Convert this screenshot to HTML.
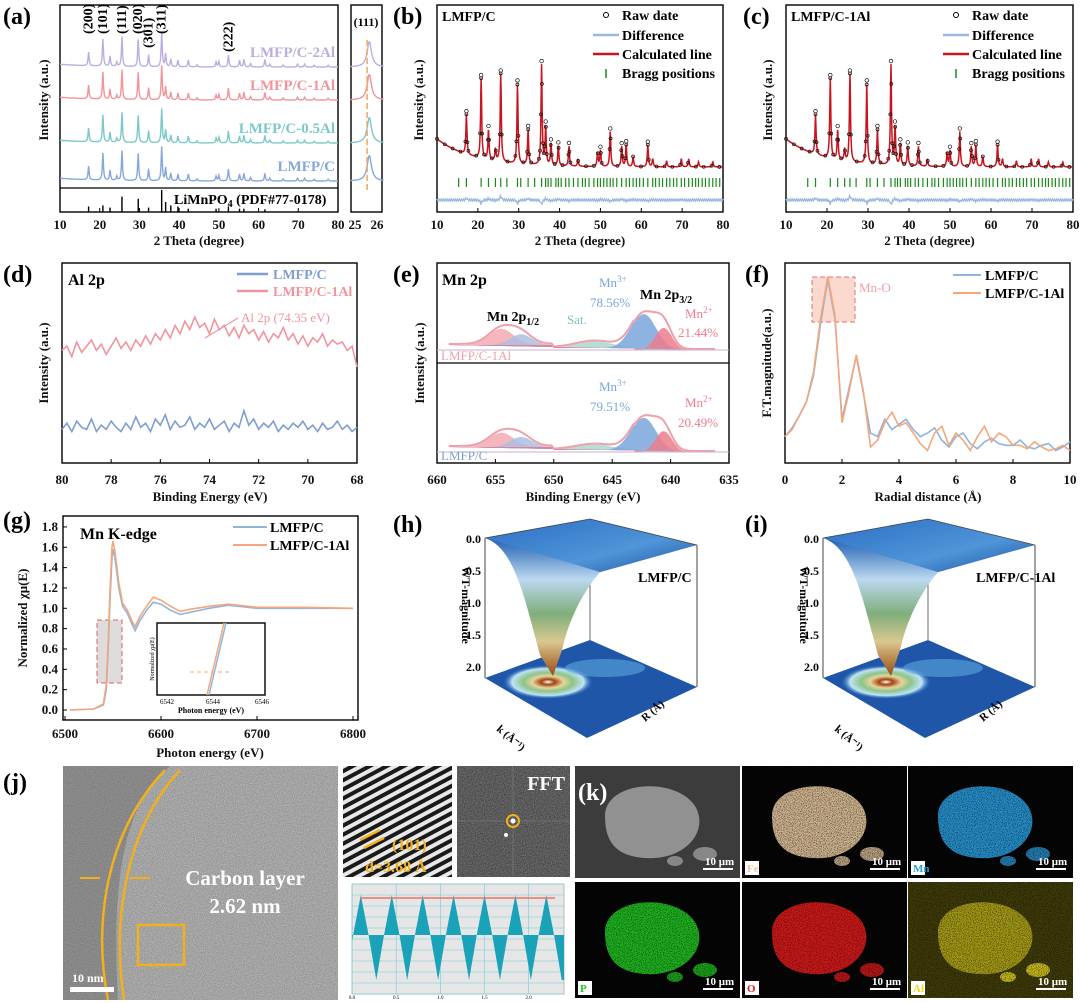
<!DOCTYPE html>
<html><head><meta charset="utf-8"><title>LMFP figure</title>
<style>
html,body{margin:0;padding:0;background:#fff;}
svg{display:block;font-family:"Liberation Serif",serif;}
.tk{font-size:13px;font-weight:bold;fill:#111;}
.ttl{font-size:13px;font-weight:bold;fill:#111;}
.pl{font-size:24px;font-weight:bold;fill:#000;}
</style></head>
<body>
<svg id="fig" width="1080" height="1003" viewBox="0 0 1080 1003" xmlns="http://www.w3.org/2000/svg">
<defs>
<filter id="tem" x="0" y="0" width="100%" height="100%"><feTurbulence type="fractalNoise" baseFrequency="0.9" numOctaves="2" seed="3"/><feColorMatrix type="matrix" values="0 0 0 0 0.5  0 0 0 0 0.5  0 0 0 0 0.5  0 0 0 1.4 -0.2"/></filter>
<filter id="grain" x="0" y="0" width="100%" height="100%"><feTurbulence type="fractalNoise" baseFrequency="1.2" numOctaves="1" seed="7"/><feColorMatrix type="matrix" values="0 0 0 0 0  0 0 0 0 0  0 0 0 0 0  0 0 0 -2.2 1.2"/></filter>
<pattern id="stripes" width="8" height="8" patternUnits="userSpaceOnUse" patternTransform="rotate(-28)"><rect width="8" height="8" fill="#e8e8e8"/><rect width="8" height="4" fill="#1a1a1a"/></pattern>
<linearGradient id="funnel" x1="0" y1="0" x2="0" y2="1"><stop offset="0" stop-color="#1f5fb0"/><stop offset="0.3" stop-color="#bcd9f0"/><stop offset="0.55" stop-color="#7fae7a"/><stop offset="0.75" stop-color="#d9c890"/><stop offset="1" stop-color="#9a4a10"/></linearGradient>
<linearGradient id="topsurf" x1="0" y1="0" x2="1" y2="1"><stop offset="0" stop-color="#2b6ec4"/><stop offset="0.6" stop-color="#4f95d8"/><stop offset="1" stop-color="#1b4fa0"/></linearGradient>
<radialGradient id="heat"><stop offset="0" stop-color="#fff"/><stop offset="0.15" stop-color="#a0410f"/><stop offset="0.35" stop-color="#e7d49a"/><stop offset="0.55" stop-color="#8cc48a"/><stop offset="0.8" stop-color="#bfe3f5"/><stop offset="1" stop-color="#2a6ec0" stop-opacity="0"/></radialGradient>
</defs>
<g id="root"></g>
</svg>
<script>
// ---------- DATA ----------
const xrdPos = [17.2,20.8,22.6,24.3,25.6,29.7,32.3,35.6,36.6,37.9,39.7,42.3,44.5,49.3,50.0,52.4,55.2,56.3,58.0,61.6,62.8,66.2,69.8,71.6,74.0,77.5];
const xrdInt = [0.4,0.8,0.3,0.12,0.88,0.8,0.35,1.0,0.38,0.22,0.2,0.2,0.06,0.14,0.16,0.35,0.2,0.22,0.1,0.22,0.08,0.06,0.08,0.08,0.05,0.05];
const pdfPos = [17.2,20.8,22.6,25.6,29.7,32.3,35.6,36.6,37.9,39.7,42.3,49.3,52.4,55.2,56.3,61.6];
const pdfInt = [0.25,0.3,0.2,0.7,0.6,0.2,1.0,0.45,0.3,0.25,0.15,0.15,0.25,0.15,0.15,0.12];
const xrdSeries = ["LMFP/C-2Al","LMFP/C-1Al","LMFP/C-0.5Al","LMFP/C"];
const xrdColors = ["#bcaee0","#f1959c","#7cc9c9","#86a9dd"];
const xrdTicks = [10,20,30,40,50,60,70,80];
const hkl = [["(200)",17.2],["(101)",20.8],["(111)",25.6],["(020)",29.7],["(301)",32.3],["(311)",35.6],["(222)",52.4]];
const braggPos = [15.3,17.2,20.8,22.6,24.3,25.6,27.1,29.7,30.5,32.3,33.9,35.6,36.6,37.2,37.9,39.1,39.7,40.4,41.5,42.3,43.4,44.5,45.6,46.3,47.2,48.4,49.3,50.0,50.8,51.6,52.4,53.1,54.0,55.2,56.3,57.1,58.0,58.8,59.6,60.5,61.6,62.8,63.5,64.4,65.2,66.2,67.0,67.9,68.7,69.8,70.6,71.6,72.5,73.3,74.0,74.9,75.7,76.6,77.5,78.3,79.2];
const alX0 = 80, alStep = -0.2;
const alPink = [0.58,0.6,0.55,0.62,0.57,0.6,0.63,0.58,0.61,0.56,0.6,0.64,0.59,0.62,0.58,0.63,0.6,0.65,0.61,0.66,0.63,0.68,0.64,0.7,0.66,0.72,0.68,0.74,0.69,0.71,0.66,0.73,0.68,0.7,0.65,0.69,0.64,0.7,0.66,0.68,0.63,0.67,0.62,0.66,0.64,0.69,0.63,0.66,0.61,0.65,0.6,0.64,0.62,0.66,0.6,0.63,0.61,0.62,0.58,0.6,0.5];
const alBlue = [0.2,0.23,0.19,0.24,0.21,0.2,0.25,0.19,0.22,0.2,0.24,0.21,0.19,0.23,0.2,0.26,0.21,0.23,0.19,0.25,0.22,0.27,0.2,0.24,0.21,0.22,0.26,0.2,0.23,0.21,0.25,0.2,0.22,0.24,0.19,0.23,0.21,0.29,0.22,0.25,0.2,0.23,0.21,0.24,0.19,0.22,0.2,0.23,0.21,0.24,0.2,0.22,0.19,0.23,0.2,0.21,0.24,0.2,0.22,0.19,0.21];
const mnCenters = [654.5,652.8,646.5,642.3,640.6];
const mnTopAmp = [0.45,0.3,0.18,1.0,0.62];
const mnBotAmp = [0.4,0.28,0.15,0.95,0.58];
const ftR = [0,0.25,0.5,0.75,1,1.25,1.5,1.75,2,2.25,2.5,2.75,3,3.25,3.5,3.75,4,4.25,4.5,4.75,5,5.25,5.5,5.75,6,6.25,6.5,6.75,7,7.25,7.5,7.75,8,8.25,8.5,8.75,9,9.25,9.5,9.75,10];
const ftC = [0.1,0.15,0.22,0.3,0.45,0.75,1.0,0.78,0.2,0.38,0.56,0.35,0.12,0.1,0.2,0.14,0.17,0.2,0.14,0.1,0.12,0.15,0.08,0.04,0.1,0.12,0.06,0.03,0.07,0.09,0.06,0.05,0.05,0.08,0.04,0.03,0.05,0.06,0.02,0.04,0.07];
const ftAl = [0.1,0.14,0.22,0.3,0.47,0.78,1.02,0.8,0.18,0.36,0.57,0.36,0.04,0.08,0.18,0.24,0.16,0.18,0.12,0.06,0.02,0.12,0.16,0.05,0.12,0.08,0.02,0.1,0.16,0.07,0.12,0.1,0.05,0.05,0.03,0.07,0.04,0.02,0.03,0.05,0.02];
const xanE = [6505,6530,6540,6543,6545,6547,6549,6550,6552,6556,6560,6565,6570,6573,6578,6585,6592,6600,6610,6620,6630,6650,6670,6700,6750,6800];
const xanC = [0,0.01,0.05,0.2,0.6,1.1,1.5,1.58,1.5,1.2,1.02,0.95,0.84,0.78,0.88,0.98,1.06,1.04,0.98,0.94,0.96,1.0,1.03,1.0,1.0,1.0];
const xanAl = [0,0.01,0.06,0.25,0.68,1.2,1.6,1.66,1.56,1.25,1.05,0.98,0.87,0.82,0.92,1.02,1.11,1.08,1.02,0.97,0.99,1.02,1.04,1.01,1.01,1.0];
const profPeaks = [0.1,0.45,0.8,1.15,1.5,1.85,2.2];

// ---------- HELPERS ----------
const NS="http://www.w3.org/2000/svg";
const root=document.getElementById('root');
function mk(tag,attrs,parent){const e=document.createElementNS(NS,tag);for(const k in attrs)e.setAttribute(k,attrs[k]);(parent||root).appendChild(e);return e;}
function txt(x,y,s,attrs,parent){const t=mk('text',Object.assign({x:x,y:y},attrs||{}),parent);t.textContent=s;return t;}
function sub(t,s,dy,fs){const sp=mk('tspan',{dy:dy,'font-size':fs},t);sp.textContent=s;return sp;}
function lin(d0,d1,r0,r1){return v=>r0+(v-d0)*(r1-r0)/(d1-d0);}
function pts(xs,ys,sx,sy){return xs.map((v,i)=>sx(v).toFixed(1)+','+sy(ys[i]).toFixed(1)).join(' ');}
function lor(x,c,w){return 1/(1+Math.pow((x-c)/w,2));}
function gau(x,c,w){return Math.exp(-Math.pow((x-c)/w,2));}
function xrdPeaks(x){let s=0;for(let i=0;i<xrdPos.length;i++)s+=xrdInt[i]*lor(x,xrdPos[i],0.16);return s;}
function xrdVal(x,bg){return xrdPeaks(x)+bg*Math.exp(-(x-10)/9);}
function frame(x,y,w,h,name){const r=mk('rect',{x:x,y:y,width:w,height:h,fill:'none',stroke:'#000','stroke-width':1.4});return r;}
function label(x,y,s,name){const t=txt(x,y,s,{class:'pl'});return t;}
function xTicks(ticks,sx,y0,yl){ticks.forEach(v=>{mk('line',{x1:sx(v),x2:sx(v),y1:y0,y2:y0-4,stroke:'#000'});const t=txt(sx(v),yl,String(v),{class:'tk','text-anchor':'middle'});});}
function ytitle(x,y,s,name,size){const t=txt(x,y,s,{class:'ttl','text-anchor':'middle',transform:'rotate(-90 '+x+' '+y+')','font-size':size||13});}
function xtitle(x,y,s,name){const t=txt(x,y,s,{class:'ttl','text-anchor':'middle'});}

// ---------- (a) ----------
label(3,24,'(a)','panel-a-label');
frame(60,5,278,207,'panel-a-frame');
mk('line',{x1:60,x2:338,y1:188,y2:188,stroke:'#000','stroke-width':1.2});
const ax=lin(10,80,60,338);
const aBase=[67,100,143,181];
xrdSeries.forEach((name,si)=>{const xs=[],ys=[];for(let x=10;x<=80;x+=0.1){xs.push(x);ys.push(xrdVal(x,0.08));}
 const p=mk('polyline',{points:pts(xs,ys,ax,v=>aBase[si]-v*34),fill:'none',stroke:xrdColors[si],'stroke-width':1.4});
 
 
 const t=txt(335,aBase[si]-10,name,{'text-anchor':'end','font-size':15,'font-weight':'bold',fill:xrdColors[si]});
 
 });
hkl.forEach(h=>{const x=ax(h[1])+4;const y=h[0]==='(301)'?48:(h[0]==='(222)'?52:34);const t=txt(x,y,h[0],{'font-size':14,'font-weight':'bold',transform:'rotate(-90 '+x+' '+y+')'});});
pdfPos.forEach((p,i)=>{const l=mk('line',{x1:ax(p),x2:ax(p),y1:212,y2:212-pdfInt[i]*22,stroke:'#000','stroke-width':1.4});});
{const t=txt(174,204,'LiMnPO',{'font-size':14,'font-weight':'bold'});sub(t,'4',3,10);sub(t,' (PDF#77-0178)',-3,14);}
xTicks(xrdTicks,ax,212,229);
xtitle(199,245,'2 Theta (degree)','x-axis-title-a');
ytitle(48,100,'Intensity (a.u.)','y-axis-title-a');
frame(351,5,31,207,'panel-a-zoom-frame');
txt(366,26,'(111)',{'font-size':12,'font-weight':'bold','text-anchor':'middle'});
const zx=lin(25,26,355,377);
xrdSeries.forEach((n,si)=>{const xs=[],ys=[];for(let x=24.8;x<=26.3;x+=0.02){xs.push(x);ys.push(0.85*lor(x,25.65,0.12));}
 const p=mk('polyline',{points:pts(xs,ys,zx,v=>aBase[si]-v*30),fill:'none',stroke:xrdColors[si],'stroke-width':1.4});
 
 });
mk('line',{x1:zx(25.55),x2:zx(25.55),y1:40,y2:190,stroke:'#f5a55a','stroke-width':1.5,'stroke-dasharray':'6,3'});
txt(355,229,'25',{class:'tk','text-anchor':'middle'});txt(377,229,'26',{class:'tk','text-anchor':'middle'});

// ---------- (b),(c) Rietveld ----------
function rietveld(x0,x1,title,lab,lx,name){
 label(lx,24,lab,name+'-label');
 frame(x0,5,x1-x0,207,name+'-frame');
 const sx=lin(10,80,x0,x1),sy=v=>167-v*100;
 const xs=[],ys=[];for(let x=10;x<=80;x+=0.08){xs.push(x);ys.push(xrdVal(x,0.28));}
 const calc=mk('polyline',{points:pts(xs,ys,sx,sy),fill:'none',stroke:'#c8141e','stroke-width':1.5});
 
 
 const g=mk('g',{fill:'none',stroke:'#111','stroke-width':0.7});
 
 
 for(let i=0;i<xs.length;i+=3){if(xrdPeaks(xs[i])>0.1||i%24===0)mk('circle',{cx:sx(xs[i]).toFixed(1),cy:sy(ys[i]).toFixed(1),r:1.5},g);}
 xrdPos.forEach((p,i)=>{if(xrdInt[i]>0.15)mk('circle',{cx:sx(p),cy:sy(xrdVal(p,0.28))-3,r:1.8},g);});
 braggPos.forEach(p=>{const l=mk('line',{x1:sx(p),x2:sx(p),y1:178,y2:187,stroke:'#1a8a1a','stroke-width':1.2});});
 const d=[];for(let x=10;x<=80;x+=0.25){let v=0;for(let i=0;i<xrdPos.length;i++)v+=xrdInt[i]*lor(x,xrdPos[i],0.2)*((i%2)?1:-1);d.push(sx(x).toFixed(1)+','+(200+v*5+((Math.round(x*4)%2)?1:-1)).toFixed(1));}
 const dl=mk('polyline',{points:d.join(' '),fill:'none',stroke:'#9ab8e0','stroke-width':1.3});
 
 
 txt(x0+5,21,title,{'font-size':14,'font-weight':'bold'});
 const lg=x1-117;
 const lgg=mk('g',{});
 
 
 mk('circle',{cx:lg,cy:15,r:2.5,fill:'none',stroke:'#000'},lgg);txt(lg+16,20,'Raw date',{'font-size':14,'font-weight':'bold'},lgg);
 mk('line',{x1:lg-13,x2:lg+13,y1:35,y2:35,stroke:'#9ab8e0','stroke-width':2.5},lgg);txt(lg+16,40,'Difference',{'font-size':14,'font-weight':'bold'},lgg);
 mk('line',{x1:lg-13,x2:lg+13,y1:54,y2:54,stroke:'#c8141e','stroke-width':2.5},lgg);txt(lg+16,59,'Calculated line',{'font-size':14,'font-weight':'bold'},lgg);
 mk('line',{x1:lg,x2:lg,y1:69,y2:78,stroke:'#1a8a1a','stroke-width':1.5},lgg);txt(lg+16,78,'Bragg positions',{'font-size':14,'font-weight':'bold'},lgg);
 xTicks(xrdTicks,sx,212,229);
 xtitle((x0+x1)/2,245,'2 Theta (degree)','x-axis-title');
 ytitle(x0-14,100,'Intensity (a.u.)','y-axis-title');
}
rietveld(437,723,'LMFP/C','(b)',393,'panel-b');
rietveld(786,1073,'LMFP/C-1Al','(c)',743,'panel-c');

// ---------- (d) Al 2p ----------
label(3,282,'(d)','panel-d-label');
frame(62,263,295,200,'panel-d-frame');
{const sx=lin(80,68,62,357),sy=v=>471-v*208;const xs=alPink.map((_,i)=>alX0+i*alStep);
 const p1=mk('polyline',{points:pts(xs,alPink,sx,sy),fill:'none',stroke:'#f0959e','stroke-width':1.6});
 
 
 const p2=mk('polyline',{points:pts(xs,alBlue,sx,sy),fill:'none',stroke:'#7f9fd2','stroke-width':1.6});
 
 
 xTicks([80,78,76,74,72,70,68],sx,463,484);
 txt(68,285,'Al 2p',{'font-size':16,'font-weight':'bold'});
 mk('line',{x1:237,x2:268,y1:274,y2:274,stroke:'#7f9fd2','stroke-width':2.5});txt(273,279,'LMFP/C',{'font-size':14,'font-weight':'bold',fill:'#7f9fd2'});
 mk('line',{x1:237,x2:268,y1:291,y2:291,stroke:'#f0959e','stroke-width':2.5});txt(273,296,'LMFP/C-1Al',{'font-size':14,'font-weight':'bold',fill:'#f0959e'});
 mk('line',{x1:205,x2:238,y1:338,y2:318,stroke:'#f0959e','stroke-width':1.2});
 txt(241,322,'Al 2p (74.35 eV)',{'font-size':13,fill:'#f0959e'});
 xtitle(210,501,'Binding Energy (eV)','x-axis-title-d');ytitle(48,363,'Intensity (a.u.)','y-axis-title-d');}

// ---------- (e) Mn 2p ----------
label(393,282,'(e)','panel-e-label');
frame(437,263,292,200,'panel-e-frame');
mk('line',{x1:437,x2:729,y1:363,y2:363,stroke:'#000','stroke-width':1.2});
{const sx=lin(660,635,437,729);
 const cols=['#f4a9b3','#a9c0e3','#a8d8cf','#7aa6dc','#ee7d8c'];const wd=[1.5,1.3,2.2,1.5,1.0];
 const drawMn=function(amps,base,name){
  const bgf=x=>(x>650?5:(x>643?2:0));
  mnCenters.forEach((c,i)=>{const ps=[];for(let x=659;x>=636;x-=0.2){ps.push(sx(x).toFixed(1)+','+(base-amps[i]*36*gau(x,c,wd[i])-bgf(x)).toFixed(1));}
   const a=mk('polygon',{points:sx(659)+','+(base-5)+' '+ps.join(' ')+' '+sx(636)+','+base,fill:cols[i],opacity:0.85});
   
   });
  const env=[];for(let x=659;x>=636;x-=0.2){let v=0;mnCenters.forEach((c,i)=>{v+=amps[i]*gau(x,c,wd[i]);});env.push(sx(x).toFixed(1)+','+(base-v*36-bgf(x)-1).toFixed(1));}
  const e=mk('polyline',{points:env.join(' '),fill:'none',stroke:'#f0a0a8','stroke-width':2});
  
  
  mk('line',{x1:437,x2:729,y1:base,y2:base,stroke:'#c8b0d0','stroke-width':1});};
 drawMn(mnTopAmp,350,'mn2p-top');drawMn(mnBotAmp,452,'mn2p-bottom');
 xTicks([660,655,650,645,640,635],sx,463,484);
 txt(442,285,'Mn 2p',{'font-size':16,'font-weight':'bold'});
 {const t=txt(487,321,'Mn 2p',{'font-size':14,'font-weight':'bold'});sub(t,'1/2',4,10);}
 {const t=txt(640,299,'Mn 2p',{'font-size':14,'font-weight':'bold'});sub(t,'3/2',4,10);}
 {const t=txt(599,287,'Mn',{'font-size':13,fill:'#7aa6dc'});sub(t,'3+',-5,9);}
 txt(590,307,'78.56%',{'font-size':13,fill:'#7aa6dc'});
 txt(567,324,'Sat.',{'font-size':13,fill:'#7fc0c0'});
 {const t=txt(685,318,'Mn',{'font-size':13,fill:'#ee7d8c'});sub(t,'2+',-5,9);}
 txt(678,337,'21.44%',{'font-size':13,fill:'#ee7d8c'});
 txt(441,360,'LMFP/C-1Al',{'font-size':13,fill:'#f0a0a8'});
 {const t=txt(599,391,'Mn',{'font-size':13,fill:'#7aa6dc'});sub(t,'3+',-5,9);}
 txt(590,411,'79.51%',{'font-size':13,fill:'#7aa6dc'});
 {const t=txt(685,407,'Mn',{'font-size':13,fill:'#ee7d8c'});sub(t,'2+',-5,9);}
 txt(678,427,'20.49%',{'font-size':13,fill:'#ee7d8c'});
 txt(441,460,'LMFP/C',{'font-size':13,fill:'#7f9fd2'});
 xtitle(583,501,'Binding Energy (eV)','x-axis-title-e');ytitle(424,363,'Intensity (a.u.)','y-axis-title-e');}

// ---------- (f) FT ----------
label(745,282,'(f)','panel-f-label');
frame(785,263,285,200,'panel-f-frame');
{const sx=lin(0,10,785,1070),sy=v=>454-v*174;
 mk('rect',{x:812,y:277,width:43,height:45,fill:'#fbd9cf',stroke:'#e07070','stroke-dasharray':'5,3'});
 txt(859,292,'Mn-O',{'font-size':13,fill:'#f0a0a8'});
 const a=mk('polyline',{points:pts(ftR,ftC,sx,sy),fill:'none',stroke:'#8fb4dd','stroke-width':1.6});
 
 
 const b=mk('polyline',{points:pts(ftR,ftAl,sx,sy),fill:'none',stroke:'#f4a77a','stroke-width':1.6});
 
 
 xTicks([0,2,4,6,8,10],sx,463,484);
 mk('line',{x1:953,x2:981,y1:275,y2:275,stroke:'#8fb4dd','stroke-width':2});txt(985,280,'LMFP/C',{'font-size':14,'font-weight':'bold'});
 mk('line',{x1:953,x2:981,y1:293,y2:293,stroke:'#f4a77a','stroke-width':2});txt(985,298,'LMFP/C-1Al',{'font-size':14,'font-weight':'bold'});
 xtitle(928,501,'Radial distance (Å)','x-axis-title-f');ytitle(771,363,'F.T.magnitude(a.u.)','y-axis-title-f');}

// ---------- (g) XANES ----------
label(3,528,'(g)','panel-g-label');
frame(63,516,295,204,'panel-g-frame');
{const sx=lin(6500,6800,65,353),sy=v=>710-v*101.7;
 [0,0.2,0.4,0.6,0.8,1.0,1.2,1.4,1.6,1.8].forEach(v=>{mk('line',{x1:63,x2:67,y1:sy(v),y2:sy(v),stroke:'#000'});txt(58,sy(v)+4,v.toFixed(1),{class:'tk','text-anchor':'end'});});
 mk('rect',{x:97,y:620,width:25,height:63,fill:'#ddd',stroke:'#e06060','stroke-dasharray':'5,3'});
 const a=mk('polyline',{points:pts(xanE,xanC,sx,sy),fill:'none',stroke:'#8fb4dd','stroke-width':1.6});
 
 
 const b=mk('polyline',{points:pts(xanE,xanAl,sx,sy),fill:'none',stroke:'#f4a77a','stroke-width':1.6});
 
 
 xTicks([6500,6600,6700,6800],sx,720,738);
 txt(80,539,'Mn K-edge',{'font-size':16,'font-weight':'bold'});
 mk('line',{x1:233,x2:267,y1:527,y2:527,stroke:'#8fb4dd','stroke-width':2});txt(270,532,'LMFP/C',{'font-size':14,'font-weight':'bold'});
 mk('line',{x1:233,x2:267,y1:545,y2:545,stroke:'#f4a77a','stroke-width':2});txt(270,550,'LMFP/C-1Al',{'font-size':14,'font-weight':'bold'});
 frame(157,623,108,72,'inset-frame');
 mk('line',{x1:209,x2:226,y1:695,y2:623,stroke:'#8fb4dd','stroke-width':1.5});mk('line',{x1:207,x2:224,y1:695,y2:623,stroke:'#f4a77a','stroke-width':1.5});
 mk('line',{x1:190,x2:230,y1:672,y2:672,stroke:'#f4a77a','stroke-dasharray':'4,3'});
 txt(160,704,'6542',{'font-size':7});txt(206,704,'6544',{'font-size':7});txt(255,704,'6546',{'font-size':7});
 txt(211,713,'Photon energy (eV)',{'font-size':8,'text-anchor':'middle','font-weight':'bold'});
 txt(154,659,'Normalized χμ(E)',{'font-size':6,'text-anchor':'middle',transform:'rotate(-90 154 659)'});
 xtitle(210,757,'Photon energy (eV)','x-axis-title-g');ytitle(27,618,'Normalized χμ(E)','y-axis-title-g');}

// ---------- (h),(i) 3D WT ----------
function wt(dx,lab,title,name,lx){
 label(lx,532,lab,name+'-label');
 const g=mk('g',{transform:'translate('+dx+',0)'});
 
 
 mk('polygon',{points:'485,678 590,640 697,687 587,738',fill:'#1f56a8'},g);
 mk('ellipse',{cx:548,cy:682,rx:45,ry:17,fill:'url(#heat)'},g);
 mk('ellipse',{cx:605,cy:668,rx:40,ry:9,fill:'#5ea8e0',opacity:0.6},g);
 mk('line',{x1:590,x2:590,y1:519,y2:640,stroke:'#444','stroke-width':0.8},g);
 mk('polygon',{points:'485,538 590,519 697,545 590,575',fill:'url(#topsurf)'},g);
 mk('path',{d:'M485,538 C515,548 525,600 540,655 L553,676 L562,650 C570,615 585,590 600,572 L560,560 Z',fill:'url(#funnel)'},g);
 mk('line',{x1:485,x2:485,y1:538,y2:678,stroke:'#444'},g);mk('line',{x1:697,x2:697,y1:545,y2:687,stroke:'#444'},g);
 mk('polyline',{points:'485,538 590,519 697,545',fill:'none',stroke:'#444','stroke-width':0.8},g);
 [0,0.5,1.0,1.5,2.0].forEach((v,i)=>txt(481,543+i*32,v.toFixed(1),{'font-size':12,'font-weight':'bold','text-anchor':'end'},g));
 txt(462,605,'WT-magnitude',{'font-size':12,'font-weight':'bold','text-anchor':'middle',transform:'rotate(90 462 605)'},g);
 txt(496,730,'k (Å⁻¹)',{'font-size':11,'font-weight':'bold',transform:'rotate(40 496 730)'},g);
 txt(645,722,'R (Å)',{'font-size':11,'font-weight':'bold',transform:'rotate(-40 645 722)'},g);
 txt(638,582,title,{'font-size':14,'font-weight':'bold'},g);
}
wt(0,'(h)','LMFP/C','panel-h',393);
wt(338,'(i)','LMFP/C-1Al','panel-i',745);

// ---------- (j) TEM ----------
label(3,790,'(j)','panel-j-label');
{const g=mk('g',{});
 
 
 mk('rect',{x:63,y:766,width:275,height:234,fill:'#8a8a8a'},g);
 mk('rect',{x:63,y:766,width:275,height:234,filter:'url(#tem)'},g);
 mk('path',{d:'M63,766 L170,766 C130,800 110,860 118,1000 L63,1000 Z',fill:'#555',opacity:0.35},g);
 mk('path',{d:'M108,1000 C92,920 108,830 165,770',fill:'none',stroke:'#f2b01c','stroke-width':2.5},g);
 mk('path',{d:'M124,1000 C112,920 125,830 180,770',fill:'none',stroke:'#f2b01c','stroke-width':2.5},g);
 mk('line',{x1:80,x2:100,y1:878,y2:878,stroke:'#f2b01c','stroke-width':2},g);
 mk('line',{x1:150,x2:130,y1:878,y2:878,stroke:'#f2b01c','stroke-width':2},g);
 mk('rect',{x:138,y:925,width:46,height:40,fill:'none',stroke:'#f2b01c','stroke-width':2.5},g);
 txt(245,885,'Carbon layer',{'font-size':21,'font-weight':'bold',fill:'#fff','text-anchor':'middle'},g);
 txt(245,913,'2.62 nm',{'font-size':21,'font-weight':'bold',fill:'#fff','text-anchor':'middle'},g);
 mk('rect',{x:70,y:987,width:44,height:5,fill:'#fff'},g);txt(72,982,'10 nm',{'font-size':12,'font-weight':'bold',fill:'#fff'},g);}
{const g=mk('g',{});
 
 
 mk('rect',{x:343,y:766,width:109,height:111,fill:'url(#stripes)'},g);
 mk('line',{x1:360,x2:380,y1:840,y2:830,stroke:'#f2b01c','stroke-width':2.5},g);mk('line',{x1:364,x2:384,y1:848,y2:838,stroke:'#f2b01c','stroke-width':2.5},g);
 txt(392,850,'(101)',{'font-size':16,'font-weight':'bold',fill:'#f2b01c'},g);txt(365,872,'d=3.68 Å',{'font-size':16,'font-weight':'bold',fill:'#f2b01c'},g);}
{const g=mk('g',{});
 
 
 mk('rect',{x:457,y:766,width:113,height:111,fill:'#3a3a3a'},g);
 mk('rect',{x:457,y:766,width:113,height:111,fill:'#999',filter:'url(#tem)',opacity:0.5},g);
 mk('line',{x1:513,x2:513,y1:766,y2:877,stroke:'#777','stroke-width':0.8},g);mk('line',{x1:457,x2:570,y1:821,y2:821,stroke:'#777','stroke-width':0.8},g);
 mk('circle',{cx:513,cy:821,r:6,fill:'none',stroke:'#f2b01c','stroke-width':2},g);mk('circle',{cx:513,cy:821,r:2.5,fill:'#fff'},g);mk('circle',{cx:506,cy:835,r:2,fill:'#fff'},g);
 txt(565,790,'FFT',{'font-size':20,'font-weight':'bold',fill:'#fff','text-anchor':'end'},g);}
{const g=mk('g',{});
 
 
 mk('rect',{x:343,y:882,width:227,height:118,fill:'#fff'},g);
 mk('rect',{x:352,y:884,width:212,height:110,fill:'#e6e6e6',stroke:'#bbb'},g);
 const sx=lin(0,2.4,352,564);
 for(let i=0;i<=10;i++)mk('line',{x1:352,x2:564,y1:884+i*11,y2:884+i*11,stroke:'#6ccfe0','stroke-width':0.6},g);
 [0,0.5,1,1.5,2].forEach(v=>mk('line',{x1:sx(v),x2:sx(v),y1:884,y2:994,stroke:'#6ccfe0','stroke-width':0.6},g));
 const half=0.175;
 const ps=[];for(let x=0;x<=2.4;x+=0.005){let dmin=9;profPeaks.forEach(p=>{dmin=Math.min(dmin,Math.abs(x-p));});const v=1-2*Math.min(dmin,half)/half;ps.push(sx(x).toFixed(1)+','+(935-v*(v>0?40:45)).toFixed(1));}
 mk('polygon',{points:sx(0)+',935 '+ps.join(' ')+' '+sx(2.4)+',935',fill:'#1aa3b8'},g);
 mk('line',{x1:sx(0.1),x2:sx(2.3),y1:898,y2:898,stroke:'#f07060','stroke-width':1.5},g);
 ['0.0','0.5','1.0','1.5','2.0'].forEach((s,i)=>txt(sx(i*0.5),999,s,{'font-size':5,'text-anchor':'middle'},g));}

// ---------- (k) EDS ----------
const edsCols=[['SEM','#9a9a9a',575,766],['Fe','#e8c9a0',742,766],['Mn','#2a9ee0',908,766],['P','#22c822',575,882],['O','#e41c1c',742,882],['Al','#e8d820',908,882]];
edsCols.forEach(c=>{const g=mk('g',{});
 
 
 const x=c[2],y=c[3],w=165,h=c[3]>800?116:112;
 mk('rect',{x:x,y:y,width:w,height:h,fill:c[0]==='SEM'?'#3c3c3c':'#050505'},g);
 if(c[0]==='Al'){mk('rect',{x:x,y:y,width:w,height:h,fill:'#8a8010',opacity:0.45},g);}
 mk('path',{d:'M'+(x+30)+','+(y+50)+' C'+(x+30)+','+(y+15)+' '+(x+100)+','+(y+10)+' '+(x+120)+','+(y+40)+' C'+(x+135)+','+(y+65)+' '+(x+110)+','+(y+95)+' '+(x+70)+','+(y+92)+' C'+(x+40)+','+(y+90)+' '+(x+30)+','+(y+75)+' '+(x+30)+','+(y+50)+' Z',fill:c[1],opacity:c[0]==='Al'?0.6:0.9},g);
 mk('ellipse',{cx:x+130,cy:y+88,rx:12,ry:7,fill:c[1],opacity:0.8},g);mk('ellipse',{cx:x+100,cy:y+95,rx:8,ry:5,fill:c[1],opacity:0.8},g);
 if(c[0]!=='SEM')mk('rect',{x:x,y:y,width:w,height:h,filter:'url(#grain)'},g);
 mk('rect',{x:x+128,y:y+h-10,width:30,height:2,fill:'#fff'},g);
 txt(x+130,y+h-13,'10 μm',{'font-size':11,'font-weight':'bold',fill:'#fff'},g);
 if(c[0]!=='SEM'){mk('rect',{x:x+3,y:y+h-17,width:14,height:14,fill:'#fff'},g);txt(x+5,y+h-6,c[0],{'font-size':11,'font-weight':'bold',fill:c[1]},g);}
});
{const t=label(578,800,'(k)','panel-k-label');t.setAttribute('style','fill:#fff');}
</script>
</body></html>
